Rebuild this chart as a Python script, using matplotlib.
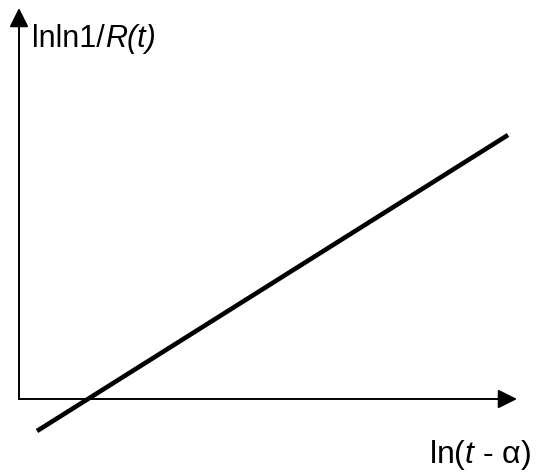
import matplotlib
matplotlib.use("Agg")
import matplotlib.pyplot as plt


plt.rcParams["font.family"] = ["Liberation Sans", "DejaVu Sans"]
plt.rcParams["mathtext.fontset"] = "custom"
plt.rcParams["mathtext.rm"] = "Liberation Sans"
plt.rcParams["mathtext.it"] = "Liberation Sans:italic"


# ---------------------------------------
# Weibull plot: lnln(1/R) vs ln(t - alpha)
# ---------------------------------------

x_fit = [0.18, 4.89]
y_fit = [-0.32, 2.64]

x_axis_end = 4.98
y_axis_end = 3.91

y_label = ["lnln1/", "R(t)"]
x_label = r"ln($\mathit{t}$ - α)"


fig = plt.figure(figsize=(5.49, 4.74), dpi=100)
ax = fig.add_axes([0, 0, 1, 1])

ax.set_xlim(-0.19, 5.30)
ax.set_ylim(-0.75, 3.99)
ax.axis("off")


arrow = dict(
    arrowstyle="-|>,head_length=0.58,head_width=0.29",
    mutation_scale=20,
    color="black",
    lw=1.4,
    shrinkA=0,
    shrinkB=0
)

# axes as arrows from the origin
ax.annotate("", xy=(x_axis_end, 0), xytext=(0, 0), arrowprops=arrow)
ax.annotate("", xy=(0, y_axis_end), xytext=(0, 0), arrowprops=arrow)


ax.plot(
    x_fit,
    y_fit,
    color="black",
    lw=3.3,
    solid_capstyle="butt"
)


# y label: upright part, then italic R(t) right after it
t1 = ax.text(0.13, 3.52, y_label[0], fontsize=22, va="baseline", ha="left")
fig.canvas.draw()
bb = t1.get_window_extent(renderer=fig.canvas.get_renderer())
x_end = ax.transData.inverted().transform((bb.x1, bb.y0))[0]
ax.text(x_end, 3.52, y_label[1], fontsize=22, style="italic",
        va="baseline", ha="left")

ax.text(4.10, -0.64, x_label, fontsize=23, va="baseline", ha="left")


fig.savefig("out.png", dpi=100)
